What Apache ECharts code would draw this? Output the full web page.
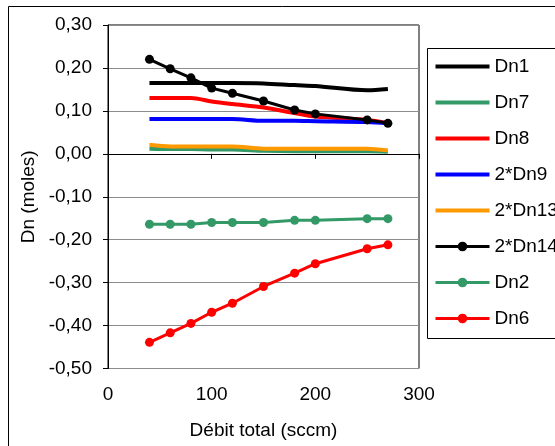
<!DOCTYPE html>
<html>
<head>
<meta charset="utf-8">
<script src="https://cdn.jsdelivr.net/npm/echarts@6/dist/echarts.min.js"></script>
<style>html,body{margin:0;padding:0;background:#fff;}#c{width:555px;height:446px;}</style>
</head>
<body>
<div id="c"></div>
<script>
const xVals = [40, 60, 80, 100, 120, 150, 180, 200, 250, 270];
const Dn1 = [0.165, 0.165, 0.165, 0.165, 0.165, 0.164, 0.160, 0.158, 0.148, 0.151];
const Dn7 = [0.012, 0.011, 0.011, 0.010, 0.010, 0.007, 0.006, 0.006, 0.006, 0.005];
const Dn8 = [0.130, 0.130, 0.130, 0.122, 0.116, 0.108, 0.095, 0.087, 0.079, 0.072];
const Dn9x2 = [0.081, 0.081, 0.081, 0.081, 0.081, 0.077, 0.077, 0.076, 0.074, 0.071];
const Dn13x2 = [0.021, 0.017, 0.017, 0.017, 0.017, 0.012, 0.012, 0.012, 0.012, 0.008];
const Dn14x2 = [0.220, 0.198, 0.177, 0.153, 0.141, 0.123, 0.102, 0.093, 0.079, 0.071];
const Dn2 = [-0.164, -0.164, -0.164, -0.160, -0.160, -0.160, -0.155, -0.155, -0.151, -0.151];
const Dn6 = [-0.439, -0.417, -0.395, -0.369, -0.348, -0.309, -0.278, -0.256, -0.221, -0.212];
const plainNames = ['Dn1', 'Dn7', 'Dn8', '2*Dn9', '2*Dn13'];
const markedNames = ['2*Dn14', 'Dn2', 'Dn6'];
const xTicks = [0, 100, 200, 300];
const yTicks = [-0.5, -0.4, -0.3, -0.2, -0.1, 0, 0.1, 0.2, 0.3];

const FONT = 'Liberation Sans';
const pairs = ys => xVals.map((x, i) => [x, ys[i]]);

function plain(name, ys, color) {
  return { name, type: 'line', data: pairs(ys), symbol: 'none', smooth: 0.3,
    lineStyle: { color, width: 4 }, itemStyle: { color }, emphasis: { disabled: true } };
}
function marked(name, ys, color) {
  return { name, type: 'line', data: pairs(ys), symbol: 'circle', symbolSize: 9, showSymbol: true,
    lineStyle: { color, width: 3 }, itemStyle: { color }, emphasis: { disabled: true } };
}

const legendData = plainNames.map(n => ({ name: n, icon: 'path://M0,0H54V4H0Z' }))
  .concat(markedNames.map(n => ({ name: n, lineStyle: { width: 3 } })));

const chart = echarts.init(document.getElementById('c'), null, { renderer: 'canvas' });
chart.setOption({
  animation: false,
  backgroundColor: '#fff',
  graphic: [
    { type: 'rect', shape: { x: 8.5, y: 6.5, width: 700, height: 600 }, style: { fill: 'none', stroke: '#000', lineWidth: 1 }, z: -1 },
    { type: 'rect', shape: { x: 427.5, y: 48.5, width: 300, height: 290 }, style: { fill: 'none', stroke: '#000', lineWidth: 1 }, z: -1 }
  ],
  grid: { left: 108, top: 25, right: 136, bottom: 77.5, show: true, borderColor: '#000', borderWidth: 1, backgroundColor: 'transparent' },
  legend: {
    orient: 'vertical', left: 429, top: 52, itemWidth: 54, itemHeight: 12, itemGap: 17,
    symbolKeepAspect: true,
    textStyle: { fontFamily: FONT, fontSize: 19, color: '#000' },
    data: legendData
  },
  xAxis: {
    type: 'value', min: xTicks[0], max: xTicks[xTicks.length - 1], interval: 100,
    name: 'Débit total (sccm)', nameLocation: 'middle', nameGap: 53,
    nameTextStyle: { fontFamily: FONT, fontSize: 19, color: '#000' },
    axisLine: { show: true, lineStyle: { color: '#000', width: 1 } },
    axisTick: { show: true, length: 5, lineStyle: { color: '#000' } },
    axisLabel: { fontFamily: FONT, fontSize: 19, color: '#000', margin: 17 },
    splitLine: { show: false }
  },
  yAxis: {
    type: 'value', min: yTicks[0], max: yTicks[yTicks.length - 1], interval: 0.1,
    name: 'Dn (moles)', nameLocation: 'middle', nameGap: 60,
    nameTextStyle: { fontFamily: FONT, fontSize: 19, color: '#000' },
    axisLine: { show: true, lineStyle: { color: '#000', width: 1 } },
    axisTick: { show: true, length: 5, lineStyle: { color: '#000' } },
    axisLabel: { fontFamily: FONT, fontSize: 19, color: '#000', margin: 16,
      formatter: v => v.toFixed(2).replace('.', ',') },
    splitLine: { show: true, lineStyle: { color: '#8c8c8c', width: 1 } }
  },
  series: [
    plain('Dn1', Dn1, '#000000'),
    plain('Dn7', Dn7, '#339966'),
    plain('Dn8', Dn8, '#ff0000'),
    plain('2*Dn9', Dn9x2, '#0000ff'),
    plain('2*Dn13', Dn13x2, '#ff9900'),
    marked('2*Dn14', Dn14x2, '#000000'),
    marked('Dn2', Dn2, '#339966'),
    marked('Dn6', Dn6, '#ff0000')
  ]
});
</script>
</body>
</html>
